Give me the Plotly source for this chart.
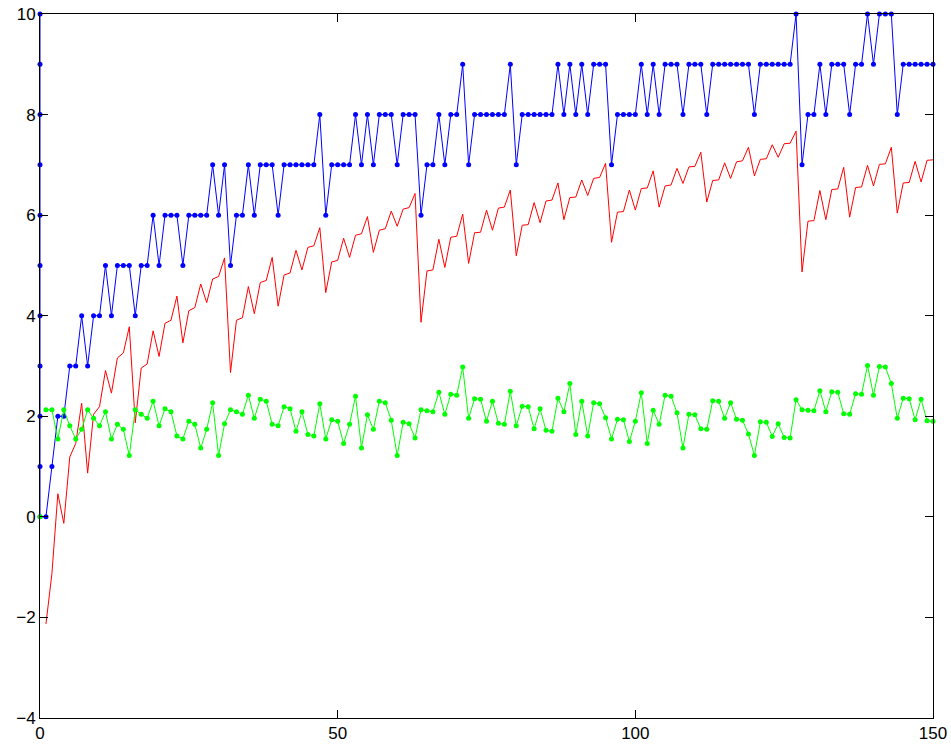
import plotly.graph_objects as go

# ---- data ----
n = list(range(1, 151))

blue_x0_col = [10, 9, 8, 7, 6, 5, 4, 3, 2, 1, 0]   # column of blue dots at x = 0

blue = [0, 1, 2, 2, 3, 3, 4, 3, 4, 4,
        5, 4, 5, 5, 5, 4, 5, 5, 6, 5,
        6, 6, 6, 5, 6, 6, 6, 6, 7, 6,
        7, 5, 6, 6, 7, 6, 7, 7, 7, 6,
        7, 7, 7, 7, 7, 7, 8, 6, 7, 7,
        7, 7, 8, 7, 8, 7, 8, 8, 8, 7,
        8, 8, 8, 6, 7, 7, 8, 7, 8, 8,
        9, 7, 8, 8, 8, 8, 8, 8, 9, 7,
        8, 8, 8, 8, 8, 8, 9, 8, 9, 8,
        9, 8, 9, 9, 9, 7, 8, 8, 8, 8,
        9, 8, 9, 8, 9, 9, 9, 8, 9, 9,
        9, 8, 9, 9, 9, 9, 9, 9, 9, 8,
        9, 9, 9, 9, 9, 9, 10, 7, 8, 8,
        9, 8, 9, 9, 9, 8, 9, 9, 10, 9,
        10, 10, 10, 8, 9, 9, 9, 9, 9, 9]

red = [-2.13, -1.13, 0.46, -0.13, 1.19, 1.46, 2.26, 0.87, 2.04, 2.19,
       2.91, 2.46, 3.16, 3.26, 3.78, 1.87, 2.96, 3.04, 3.70, 3.19,
       3.85, 3.91, 4.39, 3.46, 4.10, 4.16, 4.63, 4.26, 4.73, 4.78,
       5.15, 2.87, 3.91, 3.96, 4.58, 4.04, 4.66, 4.70, 5.16, 4.19,
       4.81, 4.85, 5.30, 4.91, 5.36, 5.39, 5.75, 4.46, 5.07, 5.10,
       5.54, 5.16, 5.60, 5.63, 5.97, 5.26, 5.70, 5.73, 6.08, 5.78,
       6.12, 6.15, 6.43, 3.87, 4.89, 4.91, 5.52, 4.96, 5.56, 5.58,
       6.02, 5.04, 5.65, 5.66, 6.10, 5.70, 6.14, 6.16, 6.50, 5.19,
       5.80, 5.81, 6.25, 5.85, 6.28, 6.30, 6.64, 5.91, 6.35, 6.36,
       6.70, 6.39, 6.73, 6.75, 7.03, 5.46, 6.06, 6.07, 6.50, 6.10,
       6.53, 6.54, 6.88, 6.16, 6.58, 6.60, 6.93, 6.63, 6.96, 6.97,
       7.25, 6.26, 6.69, 6.70, 7.04, 6.73, 7.06, 7.08, 7.35, 6.78,
       7.11, 7.12, 7.40, 7.15, 7.42, 7.43, 7.67, 4.87, 5.88, 5.89,
       6.49, 5.91, 6.51, 6.52, 6.95, 5.96, 6.55, 6.56, 6.99, 6.58,
       7.01, 7.02, 7.35, 6.04, 6.64, 6.65, 7.07, 6.66, 7.09, 7.10]

green_x0 = 0
green = [2.13, 2.13, 1.55, 2.13, 1.81, 1.55, 1.74, 2.13, 1.96, 1.81,
         2.09, 1.55, 1.84, 1.74, 1.22, 2.13, 2.04, 1.96, 2.30, 1.81,
         2.15, 2.09, 1.61, 1.55, 1.90, 1.84, 1.37, 1.74, 2.27, 1.22,
         1.85, 2.13, 2.09, 2.04, 2.42, 1.96, 2.34, 2.30, 1.84, 1.81,
         2.19, 2.15, 1.70, 2.09, 1.64, 1.61, 2.25, 1.55, 1.93, 1.90,
         1.46, 1.84, 2.40, 1.37, 2.03, 1.74, 2.30, 2.27, 1.92, 1.22,
         1.88, 1.85, 1.57, 2.13, 2.11, 2.09, 2.48, 2.04, 2.44, 2.42,
         2.98, 1.96, 2.35, 2.34, 1.90, 2.30, 1.86, 1.84, 2.50, 1.81,
         2.20, 2.19, 1.75, 2.15, 1.72, 1.70, 2.36, 2.09, 2.65, 1.64,
         2.30, 1.61, 2.27, 2.25, 1.97, 1.55, 1.94, 1.93, 1.50, 1.90,
         2.47, 1.46, 2.12, 1.84, 2.42, 2.40, 2.07, 1.37, 2.04, 2.03,
         1.75, 1.74, 2.31, 2.30, 1.96, 2.27, 1.94, 1.92, 1.65, 1.22,
         1.89, 1.88, 1.60, 1.85, 1.58, 1.57, 2.33, 2.13, 2.12, 2.11,
         2.51, 2.09, 2.49, 2.48, 2.05, 2.04, 2.45, 2.44, 3.01, 2.42,
         2.99, 2.98, 2.65, 1.96, 2.36, 2.35, 1.93, 2.34, 1.91, 1.90]

x_ticks = [0, 50, 100, 150]
y_ticks = [-4, -2, 0, 2, 4, 6, 8, 10]

BLUE = "#0000ff"
RED = "#ff0000"
GREEN = "#00ff00"

fig = go.Figure()

fig.add_trace(go.Scatter(
    x=[0] * len(blue_x0_col) + n,
    y=blue_x0_col + blue,
    mode="lines+markers",
    line=dict(color=BLUE, width=1),
    marker=dict(color=BLUE, size=5),
    cliponaxis=False,
))

fig.add_trace(go.Scatter(
    x=n, y=red,
    mode="lines",
    line=dict(color=RED, width=1),
    cliponaxis=False,
))

fig.add_trace(go.Scatter(
    x=[0], y=[green_x0],
    mode="markers",
    marker=dict(color=GREEN, size=5),
    cliponaxis=False,
))

fig.add_trace(go.Scatter(
    x=n, y=green,
    mode="lines+markers",
    line=dict(color=GREEN, width=1),
    marker=dict(color=GREEN, size=5),
    cliponaxis=False,
))

axis_common = dict(
    showgrid=False, zeroline=False, automargin=False,
    showline=True, linecolor="black", linewidth=1,
    mirror="ticks", ticks="inside", ticklen=8, tickcolor="black", tickwidth=1,
    tickfont=dict(family="Liberation Sans, Arial, sans-serif", size=17, color="black"),
)

fig.update_layout(
    width=951, height=746,
    margin=dict(l=40, r=18, t=14, b=28, autoexpand=False),
    paper_bgcolor="white", plot_bgcolor="white",
    showlegend=False,
    xaxis=dict(range=[0, 150], tickvals=x_ticks, ticktext=[str(v) for v in x_ticks], **axis_common),
    yaxis=dict(range=[-4, 10], tickvals=y_ticks, ticktext=[("\u2212" + str(-v)) if v < 0 else str(v) for v in y_ticks], **axis_common),
)

fig.write_html("out.html")
